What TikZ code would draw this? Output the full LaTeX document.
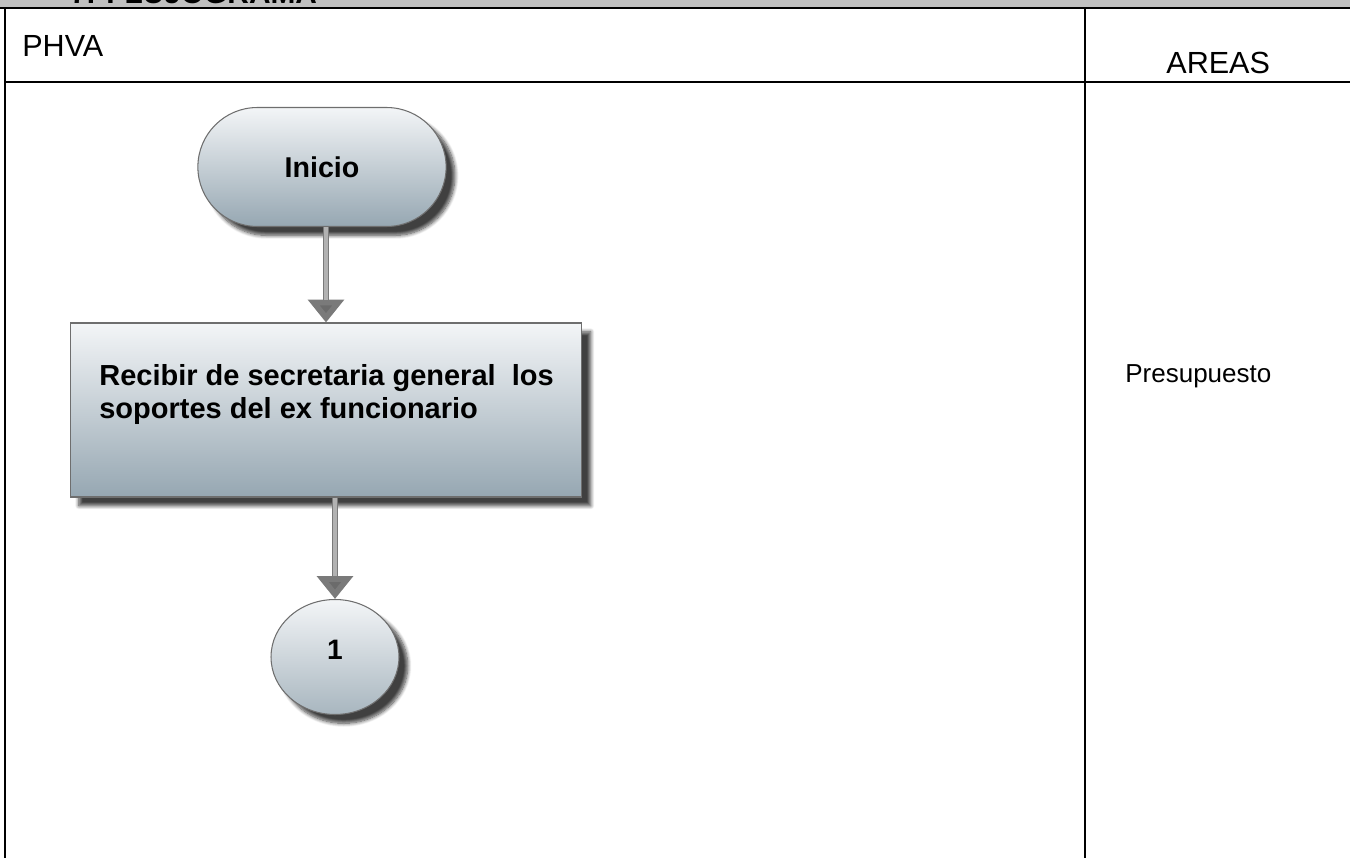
\documentclass[tikz,border=0pt]{standalone}
\usepackage{fontspec}
\setmainfont{Liberation Sans}
\usepackage{xcolor}
\usepackage{tikz}
\usetikzlibrary{calc}
\usetikzlibrary{arrows.meta}
\usetikzlibrary{shapes.geometric, shapes.misc}
\usetikzlibrary{shadows.blur}
\tikzset{>=latex}

\definecolor{barra}{RGB}{192,192,192}
\definecolor{claro}{RGB}{243,245,247}
\definecolor{oscuro}{RGB}{150,167,178}
\definecolor{borde}{RGB}{110,110,110}

\begin{document}
\begin{tikzpicture}[x = 0.02cm, y = -0.02cm,
	forma/.style = {draw=borde, line width=0.6pt, top color=claro, bottom color=oscuro,
		blur shadow={shadow xshift=5pt, shadow yshift=-5pt, shadow blur steps=8, shadow opacity=75}},
	flecha/.style = {line width=3.6pt, draw=black!52,
		-{Triangle[length=13pt, width=20pt, fill=black!58]},
		postaction={draw=black!30, line width=2pt, -, shorten >=13pt}},
	tabla/.style = {line width=1.5pt, draw=black}]
	\useasboundingbox (0,0) rectangle (1350,858);

	%% Title bar
	\fill[barra] (0,0) rectangle (1350,8);
	\begin{scope}
		\clip (0,0) rectangle (1350,7);
		\node[anchor=base west, inner sep=0, font=\bfseries\fontsize{17}{20}\selectfont] (titulo) at (70,4) {7. FLUJOGRAMA};
	\end{scope}

	%% Table
	\draw[tabla] (0,8) -- (1350,8);
	\draw[tabla] (5,8) -- (5,858);
	\draw[tabla] (5,82) -- (1350,82);
	\draw[tabla] (1085,8) -- (1085,858);
	\node[black, anchor=base west, inner sep=0, font=\fontsize{17.4}{20}\selectfont] (phva) at (22,57) {PHVA};
	\node[black, anchor=base west, inner sep=0, font=\fontsize{17.4}{20}\selectfont] (areas) at (1166,74) {AREAS};
	\node[black, anchor=base west, inner sep=0, font=\fontsize{14.8}{18}\selectfont] (presupuesto) at (1125,383) {Presupuesto};

	%% Flowchart
	\node[forma, rounded rectangle, minimum width=5.2cm, minimum height=2.38cm,
		font=\bfseries\fontsize{16.3}{19}\selectfont] (inicio) at (322,167) {Inicio};
	%
	\node[forma, rectangle, minimum width=10.24cm, minimum height=3.48cm] (recibir) at (326,410) {};
	\node[black, anchor=north west, align=left, inner sep=0,
		font=\bfseries\fontsize{16.5}{18.8}\selectfont] (recibirtxt) at (99,364)
		{Recibir de secretaria general \ los\\soportes del ex funcionario};
	%
	\node[forma, ellipse, minimum width=2.56cm, minimum height=2.3cm, inner sep=0,
		bottom color={rgb,255:red,168;green,182;blue,191},
		font=\bfseries\fontsize{16}{18}\selectfont] (conector) at (335,657) {\raisebox{8pt}{1}};

	%% Arrows
	\draw[flecha] (inicio.south -| recibir.north) -- (recibir.north);
	\draw[flecha] (recibir.south -| conector.north) -- (conector.north);

\end{tikzpicture}
\end{document}
